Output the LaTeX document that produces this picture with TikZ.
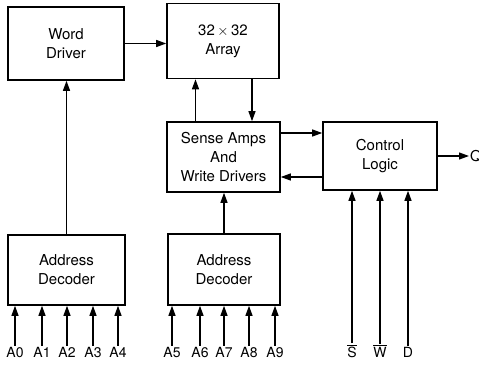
\documentclass[tikz,border=0pt]{standalone}
\usepackage{fontspec}
\setmainfont{TeX Gyre Heros}
\usetikzlibrary{arrows.meta}
\tikzstyle{blk}=[draw, line width=1.6pt, align=center, inner sep=0, font=\fontsize{15}{19}\selectfont]
\tikzstyle{pin}=[inner sep=1pt, font=\fontsize{14}{16}\selectfont]
\tikzstyle{wire}=[line width=1.2pt, -{Triangle[length=10pt,width=7pt]}]

\begin{document}
\begin{tikzpicture}[x=1pt, y=-1pt]
\useasboundingbox (0,0) rectangle (479,369);
\node at (66,43.5)[blk, minimum width=116pt, minimum height=73pt](wd){Word\\Driver};
\node at (223,41)[blk, minimum width=112pt, minimum height=75pt](arr){32\,$\times$\,32\\Array};
\node at (223.5,157)[blk, minimum width=113pt, minimum height=70pt](sa){Sense Amps\\And\\Write Drivers};
\node at (380,156)[blk, minimum width=114pt, minimum height=68pt](cl){Control\\Logic};
\node at (66.5,270)[blk, minimum width=117pt, minimum height=70pt](adl){Address\\Decoder};
\node at (224,269.5)[blk, minimum width=112pt, minimum height=71pt](adr){Address\\Decoder};
\node at (469,156)[pin, anchor=west, font=\fontsize{15}{16}\selectfont](q){Q};
\draw[wire] (wd.east)--(wd.east -| arr.west);
\draw[wire] ([xshift=-28pt]sa.north)--([xshift=-28pt]sa.north |- arr.south);
\draw[wire] ([xshift=29pt]arr.south)--([xshift=29pt]arr.south |- sa.north);
\draw[wire] ([yshift=24pt]sa.east)--([yshift=24pt]sa.east -| cl.west);
\draw[wire] ([yshift=-21pt]cl.west)--([yshift=-21pt]cl.west -| sa.east);
\draw[wire] (cl.east)--(q.west);
\draw[wire] (adl.north)--(adl.north |- wd.south);
\draw[wire] (adr.north)--(adr.north |- sa.south);
\foreach \n/\x in {0/15,1/42,2/67,3/93,4/118} {
  \node at (\x,352)[pin](a\n){A\n};
  \draw[wire] (a\n.north)--(a\n.north |- adl.south);
}
\foreach \n/\x in {5/172,6/200,7/224,8/249,9/275} {
  \node at (\x,352)[pin](a\n){A\n};
  \draw[wire] (a\n.north)--(a\n.north |- adr.south);
}
\foreach \n/\x/\t in {s/352/$\overline{\mbox{S}}$,w/380/$\overline{\mbox{W}}$,d/408/D} {
  \node at (\x,352)[pin, anchor=base, yshift=-5pt](c\n){\t};
  \draw[wire] (c\n.north)--(c\n.north |- cl.south);
}
\end{tikzpicture}
\end{document}
